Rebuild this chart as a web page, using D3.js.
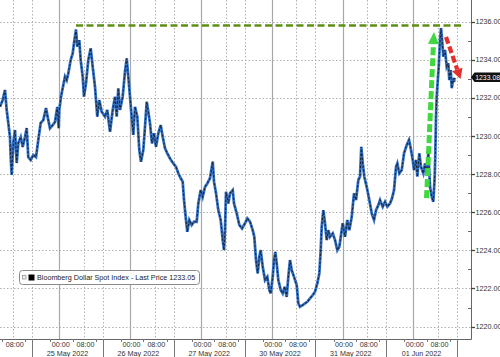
<!DOCTYPE html>
<html><head><meta charset="utf-8">
<script src="https://cdn.jsdelivr.net/npm/d3@7"></script>
<style>html,body{margin:0;padding:0;background:#fff;}svg{display:block;font-family:"Liberation Sans",Arial,sans-serif;}</style>
</head><body>
<svg id="chart" width="500" height="357"></svg>
<script>
// ---- data ----
// time = trading hours since 25 May 2022 00:00 (weekend removed), value = index level
const series = [[-20.1,1231.53],[-19.19,1231.88],[-18.41,1232.41],[-17.83,1231.36],[-17.29,1230.68],[-16.71,1229.94],[-16.47,1228.91],[-16.14,1227.95],[-15.59,1229.63],[-15.02,1230.31],[-14.44,1228.58],[-13.9,1229.63],[-13.08,1229.94],[-12.41,1229.42],[-11.63,1229.94],[-11.05,1230.41],[-10.51,1228.89],[-9.69,1228.74],[-8.81,1229.0],[-7.9,1228.89],[-7.12,1229.79],[-6.31,1230.68],[-5.42,1230.83],[-4.51,1231.46],[-3.73,1230.83],[-3.15,1230.41],[-2.24,1230.57],[-1.46,1230.73],[-0.68,1231.52],[-0.2,1230.41],[0,1231.36],[0.58,1232.06],[1.36,1232.67],[1.93,1233.11],[2.51,1232.93],[3.05,1233.28],[3.86,1233.98],[4.54,1234.33],[4.98,1234.86],[5.66,1235.58],[6.1,1234.68],[6.78,1235.03],[7.25,1233.98],[7.93,1233.11],[8.37,1232.06],[9.05,1232.76],[9.83,1233.98],[10.64,1234.6],[11.32,1233.63],[12.1,1232.58],[12.88,1231.01],[13.56,1231.88],[14.37,1231.27],[15.49,1231.01],[16.27,1231.36],[17.19,1230.22],[18.1,1231.36],[18.88,1232.06],[19.46,1231.01],[20.0,1232.5],[20.58,1231.36],[21.49,1232.06],[22.27,1233.37],[22.85,1234.07],[23.39,1233.11],[23.97,1232.06],[24.54,1231.01],[25.08,1230.05],[25.66,1231.53],[26.44,1231.01],[27.12,1229.26],[27.69,1228.65],[28.47,1229.26],[29.05,1230.48],[29.63,1231.79],[30.17,1231.27],[30.75,1230.66],[31.42,1229.61],[32.1,1230.14],[32.78,1229.43],[33.56,1230.14],[34.37,1230.57],[35.05,1229.96],[35.83,1229.35],[36.61,1229.09],[37.53,1228.82],[38.64,1228.56],[39.56,1228.38],[40.34,1228.04],[41.15,1227.78],[41.83,1227.6],[42.27,1226.64],[42.95,1225.59],[43.39,1224.97],[44.07,1225.59],[44.88,1225.33],[45.66,1225.5],[46.58,1225.5],[47.12,1226.46],[47.93,1227.16],[48.61,1226.81],[49.39,1227.33],[50.17,1227.51],[51.08,1227.78],[52.0,1228.65],[52.44,1227.6],[53.12,1226.99],[53.9,1226.11],[54.71,1225.59],[55.39,1224.54],[55.83,1224.01],[56.17,1225.06],[56.51,1227.07],[57.29,1226.46],[57.86,1226.99],[58.78,1227.16],[59.22,1226.46],[60.14,1225.94],[61.02,1225.33],[61.93,1225.15],[62.95,1225.42],[63.73,1225.68],[64.64,1225.5],[65.56,1225.06],[66.1,1224.71],[66.68,1223.49],[67.25,1222.79],[67.8,1223.66],[68.27,1224.01],[68.95,1223.14],[69.73,1222.44],[70.51,1222.61],[71.19,1221.92],[71.66,1221.74],[72.34,1222.61],[72.78,1223.49],[73.22,1223.92],[73.69,1223.32],[74.24,1222.44],[75.05,1221.92],[75.73,1221.74],[76.41,1222.09],[77.08,1221.56],[77.63,1222.61],[78.2,1223.49],[78.78,1222.96],[79.56,1222.61],[80.47,1222.18],[81.02,1221.22],[81.59,1221.04],[82.51,1221.13],[83.29,1221.22],[84.07,1221.3],[84.98,1221.48],[85.9,1221.65],[86.68,1221.83],[87.46,1222.27],[88.14,1222.79],[88.61,1224.01],[88.95,1225.24],[89.49,1226.11],[90.07,1225.42],[90.64,1224.54],[91.19,1225.06],[91.76,1224.71],[92.68,1224.89],[93.46,1224.54],[94.24,1224.01],[94.92,1224.19],[96.07,1225.42],[96.85,1224.71],[97.63,1225.59],[98.31,1225.06],[99.12,1225.76],[99.9,1226.99],[100.58,1226.64],[101.36,1227.69],[101.93,1227.86],[102.37,1229.43],[102.85,1228.56],[103.39,1227.86],[104.2,1227.33],[105.08,1226.64],[105.9,1225.94],[106.68,1225.59],[107.36,1226.11],[108.14,1226.37],[108.71,1226.64],[109.63,1226.29],[110.41,1226.55],[111.19,1226.29],[112.1,1226.46],[112.78,1226.73],[113.46,1227.16],[114.14,1228.38],[114.58,1228.56],[115.25,1228.04],[116.07,1228.21],[116.85,1229.09],[117.76,1229.52],[118.54,1229.79],[119.12,1229.35],[119.8,1228.74],[120.24,1228.21],[120.92,1228.74],[121.36,1227.86],[122.03,1229.09],[122.61,1228.38],[123.39,1228.04],[123.97,1228.56],[124.54,1228.04],[125.08,1229.09],[125.66,1227.33],[126.24,1226.81],[126.78,1226.55],[127.25,1227.86],[127.46,1229.09],[127.69,1231.01],[127.93,1232.06],[128.14,1232.58],[128.61,1233.63],[129.05,1235.03],[129.39,1235.65],[129.83,1234.86],[130.17,1234.16],[130.75,1234.51],[131.32,1233.63],[131.86,1233.81],[132.2,1232.93],[132.68,1233.46],[133.02,1232.5],[133.56,1233.02],[133.8,1232.83],[133.97,1233.05]];

const seriesName = "Bloomberg Dollar Spot Index - Last Price";
const legendPrice = "1233.05";
const lastPrice = 1233.08;

const dayStarts = [0, 24, 48, 72, 96, 120];
const dayLabels = ["25 May 2022", "26 May 2022", "27 May 2022", "30 May 2022", "31 May 2022", "01 Jun 2022"];
const timeTicks = [{h: 0, label: "00:00"}, {h: 8.4, label: "08:00"}];
const firstTimeTick = {h: -15.6, label: "08:00"};
const sessionBreakOffset = -9.2;   // session boundaries, hours relative to day start
const minorTimeOffsets = [-3, 4.5, 12.5];

const yTicks = [1220, 1222, 1224, 1226, 1228, 1230, 1232, 1234, 1236];
const yMinorTicks = [1221, 1223, 1225, 1227, 1229, 1231, 1233, 1235];

// annotations (time, value)
const highLine = {from: 5.66, to: 136.2, value: 1235.79};
const greenArrow = {from: [124.47, 1226.74], to: [127.0, 1235.45]};
const redArrow = {from: [131.08, 1235.19], to: [136.0, 1232.99]};

// ---- layout ----
const W = 500, H = 357;
const plotR = 471, plotB = 339;
const svg = d3.select("#chart");

const x = d3.scaleLinear().domain([-20.1, 139.55]).range([0, plotR]);
const y = d3.scaleLinear().domain([1219.35, 1237.13]).range([plotB, 0]);

svg.append("defs").append("clipPath").attr("id", "clip")
  .append("rect").attr("x", 0).attr("y", 0).attr("width", plotR).attr("height", plotB);

const plot = svg.append("g").attr("clip-path", "url(#clip)");

// horizontal grid
plot.selectAll(".hg").data(yTicks).join("line")
  .attr("x1", 0).attr("x2", plotR)
  .attr("y1", d => Math.round(y(d)) + 0.5).attr("y2", d => Math.round(y(d)) + 0.5)
  .attr("stroke", "#b0b0b0").attr("stroke-width", 1).attr("stroke-dasharray", "1.5,2");

// vertical dotted grid (08:00 and session breaks)
const dotted = [firstTimeTick.h];
dayStarts.forEach(d => { dotted.push(d + 8.4); });
const breaks = [sessionBreakOffset];
dayStarts.forEach(d => breaks.push(d + 24 + sessionBreakOffset));
plot.selectAll(".vg").data(dotted.concat(breaks)).join("line")
  .attr("x1", d => Math.round(x(d)) + 0.5).attr("x2", d => Math.round(x(d)) + 0.5)
  .attr("y1", 0).attr("y2", plotB)
  .attr("stroke", "#b0b0b0").attr("stroke-width", 1).attr("stroke-dasharray", "1.5,2");

// vertical solid grid at day starts
plot.selectAll(".vs").data(dayStarts).join("line")
  .attr("x1", d => Math.round(x(d)) + 0.5).attr("x2", d => Math.round(x(d)) + 0.5)
  .attr("y1", 0).attr("y2", plotB)
  .attr("stroke", "#a8a8a8").attr("stroke-width", 1.2);

// high level dashed line
plot.append("line")
  .attr("x1", x(highLine.from)).attr("x2", x(highLine.to))
  .attr("y1", y(highLine.value)).attr("y2", y(highLine.value))
  .attr("stroke", "#5f9016").attr("stroke-width", 2.6).attr("stroke-dasharray", "7,3.5");

// series
const line = d3.line().x(d => x(d[0])).y(d => y(d[1]));
plot.append("path").datum(series).attr("d", line)
  .attr("fill", "none").attr("stroke", "#3572c6").attr("stroke-width", 2.8).attr("stroke-linejoin", "miter");
plot.append("path").datum(series).attr("d", line)
  .attr("fill", "none").attr("stroke", "#0c0c0c").attr("stroke-opacity", 0.75).attr("stroke-width", 1.1)
  .attr("stroke-dasharray", "2.5,1.5");

// arrows
function arrow(a, color, width, headLen, headW, dash) {
  const p0 = [x(a.from[0]), y(a.from[1])];
  const p1 = [x(a.to[0]), y(a.to[1])];
  const dx = p1[0] - p0[0], dy = p1[1] - p0[1];
  const L = Math.hypot(dx, dy), ux = dx / L, uy = dy / L;
  const bx = p1[0] - ux * headLen, by = p1[1] - uy * headLen;
  plot.append("line").attr("x1", p0[0]).attr("y1", p0[1]).attr("x2", bx).attr("y2", by)
    .attr("stroke", color).attr("stroke-width", width).attr("stroke-dasharray", dash);
  const nx = -uy, ny = ux;
  plot.append("path")
    .attr("d", `M${p1[0]},${p1[1]}L${bx + nx * headW / 2},${by + ny * headW / 2}L${bx - nx * headW / 2},${by - ny * headW / 2}Z`)
    .attr("fill", color);
}
arrow(greenArrow, "#3fd83f", 5, 12, 11, "8,3");
arrow(redArrow, "#e3302d", 4.2, 10, 11, "7,3");

// axes lines
svg.append("line").attr("x1", 0).attr("x2", plotR + 0.5).attr("y1", plotB + 0.5).attr("y2", plotB + 0.5)
  .attr("stroke", "#666").attr("stroke-width", 1);
svg.append("line").attr("x1", plotR + 0.5).attr("x2", plotR + 0.5).attr("y1", 0).attr("y2", plotB + 0.5)
  .attr("stroke", "#666").attr("stroke-width", 1);

// session break ticks below axis
svg.selectAll(".bt").data(breaks).join("line")
  .attr("x1", d => Math.round(x(d)) + 0.5).attr("x2", d => Math.round(x(d)) + 0.5)
  .attr("y1", plotB).attr("y2", H)
  .attr("stroke", "#777").attr("stroke-width", 1);

// minor ticks below axis
const minor = [];
dayStarts.forEach(d => minorTimeOffsets.forEach(o => minor.push(d + o)));
minorTimeOffsets.forEach(o => minor.push(-24 + o));
svg.selectAll(".mt").data(minor.filter(d => x(d) > 0 && x(d) < plotR)).join("line")
  .attr("x1", d => Math.round(x(d)) + 0.5).attr("x2", d => Math.round(x(d)) + 0.5)
  .attr("y1", plotB).attr("y2", plotB + 3)
  .attr("stroke", "#777").attr("stroke-width", 1);

// time labels
const tl = [firstTimeTick];
dayStarts.forEach(d => timeTicks.forEach(t => tl.push({h: d + t.h, label: t.label})));
svg.selectAll(".tl").data(tl).join("text")
  .attr("x", d => x(d.h) + 1.5).attr("y", 347)
  .attr("text-anchor", "middle").attr("font-size", 7.2).attr("fill", "#333")
  .text(d => d.label);

// date labels centered in each session
svg.selectAll(".dl").data(dayStarts).join("text")
  .attr("x", (d, i) => x(d + sessionBreakOffset + 12))
  .attr("y", 355.5).attr("text-anchor", "middle").attr("font-size", 7.2).attr("fill", "#333")
  .text((d, i) => dayLabels[i]);

// y ticks and labels
svg.selectAll(".yt").data(yTicks).join("line")
  .attr("x1", plotR).attr("x2", plotR + 4)
  .attr("y1", d => Math.round(y(d)) + 0.5).attr("y2", d => Math.round(y(d)) + 0.5)
  .attr("stroke", "#444").attr("stroke-width", 1.3);
svg.selectAll(".ym").data(yMinorTicks).join("line")
  .attr("x1", plotR - 3).attr("x2", plotR)
  .attr("y1", d => Math.round(y(d)) + 0.5).attr("y2", d => Math.round(y(d)) + 0.5)
  .attr("stroke", "#666").attr("stroke-width", 1);
svg.selectAll(".yl").data(yTicks).join("text")
  .attr("x", plotR + 4.5).attr("y", d => y(d) + 2.6)
  .attr("font-size", 7.2).attr("fill", "#333")
  .text(d => d.toFixed(2));

// last price tag
const ly = y(lastPrice);
svg.append("path")
  .attr("d", `M${plotR},${ly}L${plotR + 3.5},${ly - 4.8}L${W},${ly - 4.8}L${W},${ly + 4.8}L${plotR + 3.5},${ly + 4.8}Z`)
  .attr("fill", "#111");
svg.append("text").attr("x", plotR + 4.2).attr("y", ly + 2.5)
  .attr("font-size", 6.9).attr("fill", "#fff").text(lastPrice.toFixed(2));

// legend
const lg = svg.append("g");
lg.append("rect").attr("x", 19.5).attr("y", 270.5).attr("width", 180).attr("height", 14).attr("rx", 3)
  .attr("fill", "#fff").attr("stroke", "#8a8a8a").attr("stroke-width", 1);
lg.append("rect").attr("x", 22.5).attr("y", 275.5).attr("width", 3.5).attr("height", 3.5)
  .attr("fill", "#eee").attr("stroke", "#999").attr("stroke-width", 0.8);
lg.append("rect").attr("x", 28.5).attr("y", 274.5).attr("width", 6).attr("height", 6).attr("fill", "#000");
lg.append("text").attr("x", 37).attr("y", 280.3).attr("font-size", 7.2).attr("fill", "#222")
  .text(seriesName + " " + legendPrice);
</script>
</body></html>
